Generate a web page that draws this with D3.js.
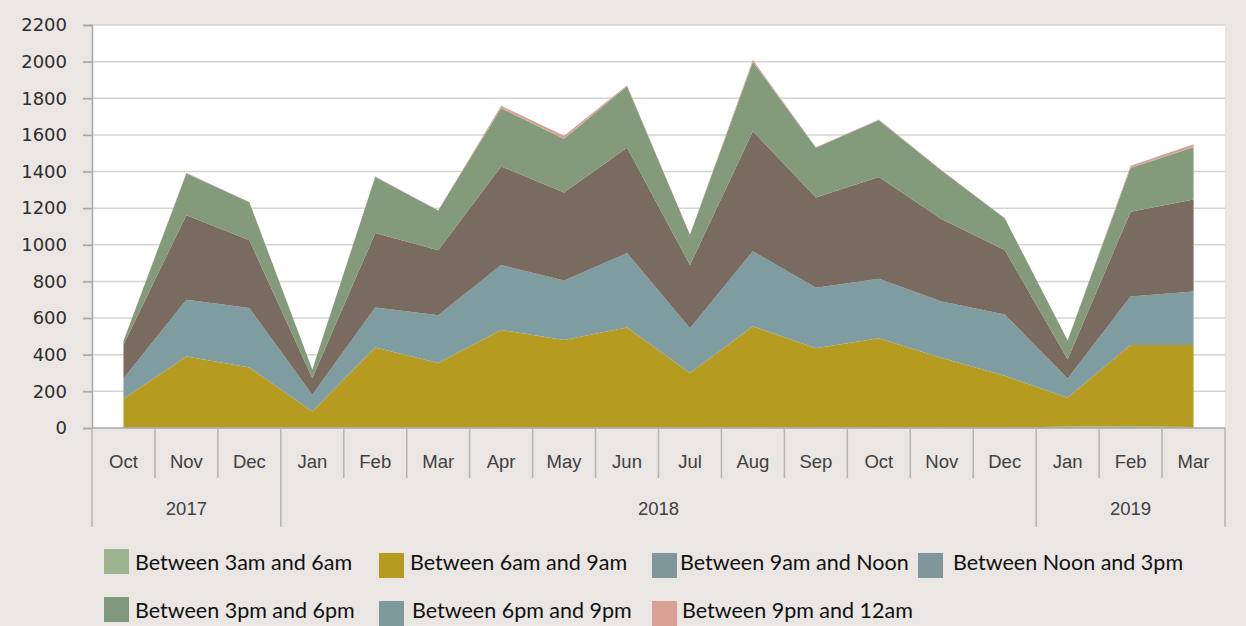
<!DOCTYPE html>
<html>
<head>
<meta charset="utf-8">
<script src="https://cdn.jsdelivr.net/npm/d3@7"></script>
<style>
  body { margin: 0; background: #e9e6e3; }
</style>
</head>
<body>
<div id="chart"></div>
<script>
// monthly counts by time of day, Oct 2017 - Mar 2019
const months = ["Oct","Nov","Dec","Jan","Feb","Mar","Apr","May","Jun","Jul","Aug","Sep","Oct","Nov","Dec","Jan","Feb","Mar"];
const years = [
    {label: "2017", start: 0, end: 3},
    {label: "2018", start: 3, end: 15},
    {label: "2019", start: 15, end: 18}
];
const seriesNames = ["Between 3am and 6am","Between 6am and 9am","Between 9am and Noon","Between Noon and 3pm","Between 3pm and 6pm","Between 6pm and 9pm","Between 9pm and 12am"];

const s3to6am   = [2,2,2,1,2,2,3,2,3,2,3,2,5,3,2,8,10,5];
const s6to9am   = [158,388,328,89,438,353,532,478,545,298,552,433,485,379,283,157,443,448];
const s9toNoon  = [110,310,325,92,218,260,355,325,407,245,410,330,325,308,335,105,265,292];
const sNoonto3  = [185,462,370,91,406,355,538,480,575,345,655,493,555,450,352,105,462,503];
const s3to6pm   = [20,228,208,47,306,218,317,293,335,165,378,272,310,265,173,103,240,284];
const s6to9pm   = [0,1,0,0,1,0,2,2,1,0,2,1,1,0,0,0,2,2];
const s9to12am  = [0,2,1,0,2,1,12,15,5,1,10,2,3,2,1,1,10,15];

const yTicks = [0,200,400,600,800,1000,1200,1400,1600,1800,2000,2200];

const areaColors   = ["#9db491","#b59b20","#7f9ca0","#7a6b61","#849b7b","#7f9ca0","#d9a092"];
const legendColors = ["#9db491","#b59b20","#7f979b","#7f979b","#7f977a","#7f9a9d","#d9a096"];

const allSeries = [s3to6am, s6to9am, s9toNoon, sNoonto3, s3to6pm, s6to9pm, s9to12am];
const table = months.map((m, i) => {
    const row = {idx: i};
    seriesNames.forEach((name, k) => row[name] = allSeries[k][i]);
    return row;
});

const W = 1246, H = 626;
const plot = {left: 92, right: 1225, top: 25, bottom: 428};

const svg = d3.select("#chart")
    .append("svg")
    .attr("width", W)
    .attr("height", H);

svg.append("rect")
    .attr("width", W)
    .attr("height", H)
    .attr("fill", "#e9e6e3");

svg.append("rect")
    .attr("x", plot.left)
    .attr("y", plot.top)
    .attr("width", plot.right - plot.left)
    .attr("height", plot.bottom - plot.top)
    .attr("fill", "#ffffff");

const x = d3.scaleBand()
    .domain(d3.range(months.length))
    .range([plot.left, plot.right]);

const y = d3.scaleLinear()
    .domain([0, 2200])
    .range([plot.bottom, plot.top]);

// gridlines
svg.append("g")
    .selectAll("line")
    .data(yTicks.slice(1))
    .enter()
    .append("line")
    .attr("x1", plot.left - 9)
    .attr("x2", plot.right)
    .attr("y1", d => y(d))
    .attr("y2", d => y(d))
    .attr("stroke", "#d4d4d4")
    .attr("stroke-width", 1.5);

/* Y axis */
const yAxis = svg.append("g")
    .attr("transform", `translate(${plot.left},0)`)
    .call(d3.axisLeft(y).tickValues(yTicks).tickFormat(d3.format("d")).tickSize(9).tickPadding(16));
yAxis.select(".domain").attr("stroke", "#a8a8a8").attr("stroke-width", 1.5);
yAxis.selectAll(".tick line").attr("stroke", "#a8a8a8").attr("stroke-width", 1.5);
yAxis.selectAll("text")
    .attr("fill", "#2e2e2e")
    .style("font-family", "'DejaVu Sans', sans-serif")
    .style("font-size", "18px");

// stacked areas
const stack = d3.stack().keys(seriesNames);
const layers = stack(table);

const area = d3.area()
    .x(d => x(d.data.idx) + x.bandwidth() / 2)
    .y0(d => y(d[0]))
    .y1(d => y(d[1]));

svg.append("g")
    .selectAll("path")
    .data(layers)
    .enter()
    .append("path")
    .attr("d", area)
    .attr("fill", (d, i) => areaColors[i]);

/* X axis, two levels */
const xg = svg.append("g");
xg.append("line")
    .attr("x1", plot.left)
    .attr("x2", plot.right)
    .attr("y1", plot.bottom)
    .attr("y2", plot.bottom)
    .attr("stroke", "#a8a8a8")
    .attr("stroke-width", 1.5);

const yearEdges = years.map(d => d.start).concat([months.length]);
xg.selectAll(".sep")
    .data(d3.range(months.length + 1))
    .enter()
    .append("line")
    .attr("x1", i => i < months.length ? x(i) : plot.right)
    .attr("x2", i => i < months.length ? x(i) : plot.right)
    .attr("y1", plot.bottom)
    .attr("y2", i => yearEdges.includes(i) ? 527 : 478)
    .attr("stroke", "#b4b4b4")
    .attr("stroke-width", 1.5);

xg.selectAll(".month")
    .data(months)
    .enter()
    .append("text")
    .attr("x", (d, i) => x(i) + x.bandwidth() / 2)
    .attr("y", 468)
    .attr("text-anchor", "middle")
    .attr("fill", "#404040")
    .style("font-family", "'Liberation Sans', Arial, sans-serif")
    .style("font-size", "18.5px")
    .text(d => d);

xg.selectAll(".year")
    .data(years)
    .enter()
    .append("text")
    .attr("x", d => (x(d.start) + (d.end < months.length ? x(d.end) : plot.right)) / 2)
    .attr("y", 515)
    .attr("text-anchor", "middle")
    .attr("fill", "#404040")
    .style("font-family", "'Liberation Sans', Arial, sans-serif")
    .style("font-size", "18.5px")
    .text(d => d.label);

// Legend
const legendX = [104, 379, 652, 918];
const legendTextX = [135, 410, 680, 953];
const legend = svg.append("g")
    .selectAll("g")
    .data(seriesNames)
    .enter()
    .append("g")
    .attr("transform", (d, i) => `translate(0,${i < 4 ? 0 : 48})`);

legend.append("rect")
    .attr("x", (d, i) => legendX[i % 4])
    .attr("y", (d, i) => i % 4 === 0 ? 549 : 553)
    .attr("width", 25)
    .attr("height", 25)
    .attr("fill", (d, i) => legendColors[i]);

legend.append("text")
    .attr("x", (d, i) => legendTextX[i % 4] + (i >= 4 && i % 4 > 0 ? 2 : 0))
    .attr("y", 570)
    .attr("fill", "#111")
    .style("font-family", "Lato, sans-serif")
    .style("font-size", "21.5px")
    .text(d => d);
</script>
</body>
</html>
